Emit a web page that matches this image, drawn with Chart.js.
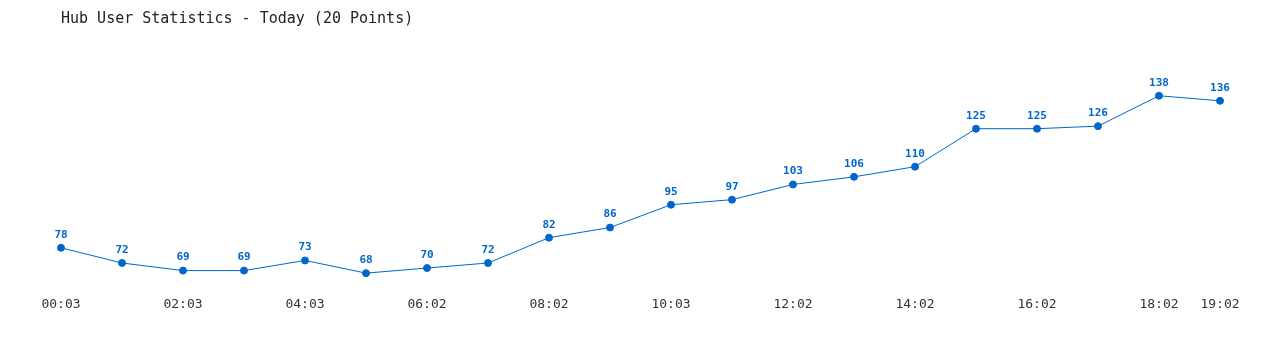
<!DOCTYPE html>
<html><head><meta charset="utf-8">
<script src="https://cdn.jsdelivr.net/npm/chart.js@4"></script>
<style>html,body{margin:0;padding:0;background:#fff}#wrap{width:1280px;height:350px}</style>
</head><body><div id="wrap"><canvas id="c" width="1280" height="350"></canvas></div>
<script>
const titleText = "Hub User Statistics - Today (20 Points)";
const timeLabels = ["00:03","01:03","02:03","03:03","04:03","05:03","06:02","07:02","08:02","09:02","10:03","11:02","12:02","13:02","14:02","15:02","16:02","17:02","18:02","19:02"];
const userCounts = [78,72,69,69,73,68,70,72,82,86,95,97,103,106,110,125,125,126,138,136];
const lineColor = "#0066cc";
const FONT = "'DejaVu Sans Mono', 'Liberation Mono', monospace";

const valueLabels = {
  id: 'valueLabels',
  afterDatasetsDraw(chart) {
    const ctx = chart.ctx;
    const meta = chart.getDatasetMeta(0);
    ctx.save();
    ctx.font = "bold 11px " + FONT;
    ctx.fillStyle = lineColor;
    ctx.textAlign = 'center';
    ctx.textBaseline = 'middle';
    meta.data.forEach((pt, i) => {
      ctx.fillText(String(chart.data.datasets[0].data[i]), pt.x, pt.y - 13);
    });
    ctx.restore();
  }
};

new Chart(document.getElementById('c'), {
  type: 'line',
  data: {
    labels: timeLabels,
    datasets: [{
      data: userCounts,
      borderColor: lineColor,
      backgroundColor: lineColor,
      borderWidth: 1,
      pointRadius: 3.5,
      pointHoverRadius: 3.5,
      pointBackgroundColor: lineColor,
      pointBorderColor: lineColor,
      tension: 0,
      fill: false
    }]
  },
  options: {
    responsive: false,
    animation: false,
    devicePixelRatio: 1,
    layout: { padding: { left: 61, right: 60, top: 0, bottom: 35 } },
    plugins: {
      legend: { display: false },
      tooltip: { enabled: false },
      title: {
        display: true,
        text: titleText,
        align: 'start',
        color: '#222',
        font: { family: FONT, size: 15, weight: 'normal' },
        padding: { top: 10, bottom: 12 }
      }
    },
    scales: {
      x: {
        offset: false,
        grid: { display: false, drawTicks: false },
        border: { display: false },
        ticks: {
          autoSkip: false,
          maxRotation: 0,
          padding: 3,
          color: '#333',
          font: { family: FONT, size: 13 },
          callback: function(v, i) {
            return (i % 2 === 0 || i === timeLabels.length - 1) ? timeLabels[i] : '';
          }
        }
      },
      y: {
        display: false,
        min: 60,
        max: 160
      }
    }
  },
  plugins: [valueLabels]
});
</script>
</body></html>
